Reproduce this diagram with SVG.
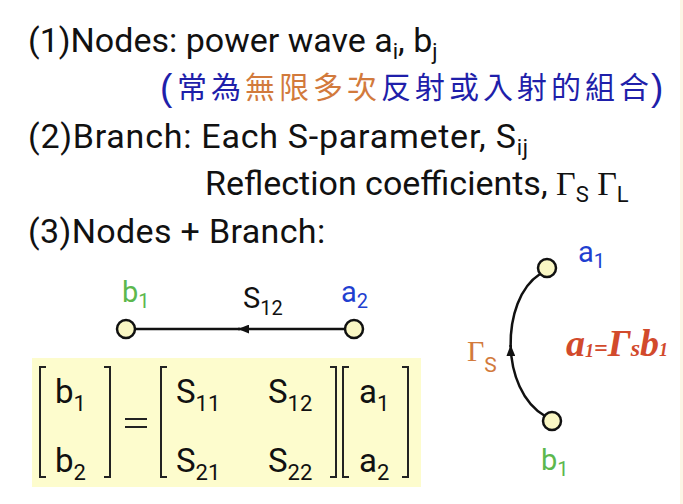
<svg xmlns="http://www.w3.org/2000/svg" width="683" height="504" viewBox="0 0 683 504">
  <style>
    .t { font-family: Roboto, "Liberation Sans", sans-serif; fill: #111; }
    .h { font-size: 34px; }
    .sub { font-size: 22px; }
    .serif { font-family: "Liberation Serif", "DejaVu Serif", serif; }
    .cjk { font-family: "Noto Sans CJK TC", "Noto Sans CJK SC", sans-serif; font-size: 30px; }
    .par { font-family: "Liberation Sans", sans-serif; font-size: 37px; }
    .blue { fill: #1f1faa; }
    .orange { fill: #d27a3c; }
    .lblue { fill: #1f3fd0; }
    .green { fill: #5cb84e; }
    .node { fill: #faf7c4; stroke: #111; stroke-width: 2.5; }
    .edge { fill: none; stroke: #111; stroke-width: 2.5; }
    .br { fill: none; stroke: #222; stroke-width: 2; }
    .m { font-size: 33px; }
    .ms { font-size: 22px; }
  </style>
  <defs>
    <marker id="arr" viewBox="0 0 10 8" refX="10" refY="4" markerWidth="11" markerHeight="9" markerUnits="userSpaceOnUse" orient="auto">
      <path d="M0,0 L10,4 L0,8 Z" fill="#111"/>
    </marker>
  </defs>
  <rect width="683" height="504" fill="#ffffff"/>
  <rect x="680" y="0" width="3" height="504" fill="#fcf6e6"/>

  <!-- Heading text -->
  <g id="text-lines">
    <text class="t h" x="28" y="52">(1)Nodes: power wave a<tspan class="sub" dy="7">i</tspan><tspan dy="-7">, b</tspan><tspan class="sub" dy="7">j</tspan></text>
    <text class="par blue" x="160" y="100">(</text>
    <text class="cjk blue" x="177 211" y="98">常為</text>
    <text class="cjk orange" x="245 279 313 347" y="98">無限多次</text>
    <text class="cjk blue" x="381 415 449 483 517 551 585 619" y="98">反射或入射的組合</text>
    <text class="par blue" x="651" y="100">)</text>
    <text class="t h" x="28" y="148" letter-spacing="0.75">(2)Branch: Each S-parameter, S<tspan class="sub" dy="7">ij</tspan></text>
    <text class="t h" x="205" y="195">Reflection coefficients, <tspan class="serif">Γ</tspan><tspan class="sub" dy="7">S</tspan><tspan dy="-7"> </tspan><tspan class="serif">Γ</tspan><tspan class="sub" dy="7">L</tspan></text>
    <text class="t h" x="28" y="243" letter-spacing="0.35">(3)Nodes + Branch:</text>
  </g>

  <!-- Connectors -->
  <g id="connectors">
    <path class="edge" d="M345,329 L238,329" marker-end="url(#arr)"/>
    <path class="edge" d="M240,329 L134,329"/>
    <path class="edge" d="M545,416 C522.5,403 511.25,374 510.6,345" marker-end="url(#arr)"/>
    <path class="edge" d="M510.6,347 C510,316 520,287 540,274"/>
  </g>

  <!-- Left signal flow: b1 <- a2 -->
  <g id="node-b1-left">
    <circle class="node" cx="126" cy="329" r="9"/>
    <text class="t green" font-size="29" x="122" y="302">b<tspan font-size="20" dy="6">1</tspan></text>
  </g>
  <g id="node-a2">
    <circle class="node" cx="354" cy="329" r="9"/>
    <text class="t lblue" font-size="29" x="341" y="302">a<tspan font-size="20" dy="6">2</tspan></text>
  </g>
  <text class="t" font-size="29" x="243" y="308">S<tspan font-size="20" dy="7">12</tspan></text>

  <!-- Right signal flow: b1 -> a1 -->
  <g id="node-a1">
    <circle class="node" cx="547" cy="268" r="9"/>
    <text class="t lblue" font-size="29" x="578" y="262">a<tspan font-size="20" dy="6">1</tspan></text>
  </g>
  <g id="node-b1-right">
    <circle class="node" cx="552" cy="421" r="9"/>
    <text class="t green" font-size="29" x="541" y="470">b<tspan font-size="20" dy="6">1</tspan></text>
  </g>
  <text class="orange" x="467" y="361"><tspan class="serif" font-size="30">Γ</tspan><tspan font-family="Roboto, sans-serif" font-size="21" dy="11">S</tspan></text>
  <text x="566" y="356" fill="#d24a2c" font-family="'Liberation Serif', serif" font-style="italic" font-weight="bold" font-size="38">a<tspan font-size="18" dy="1">1</tspan><tspan dy="-1" font-size="24">=</tspan>Γ<tspan font-size="24">s</tspan>b<tspan font-size="18">1</tspan></text>

  <!-- Matrix equation -->
  <g id="matrix">
    <rect x="32" y="358" width="389" height="129" fill="#fdfccd"/>
    <path class="br" d="M46,367 H40 V477 H46"/>
    <path class="br" d="M104,367 H110 V477 H104"/>
    <path class="br" d="M125,419 H147 M125,427 H147" stroke-width="2.5"/>
    <path class="br" d="M167,367 H161 V477 H167"/>
    <path class="br" d="M330,367 H336 V477 H330"/>
    <path class="br" d="M349,367 H343 V477 H349"/>
    <path class="br" d="M402,367 H408 V477 H402"/>
    <text class="t m" x="55" y="403">b<tspan class="ms" dy="8">1</tspan></text>
    <text class="t m" x="55" y="472">b<tspan class="ms" dy="8">2</tspan></text>
    <text class="t m" x="176" y="403">S<tspan class="ms" dy="8">11</tspan></text>
    <text class="t m" x="268" y="403">S<tspan class="ms" dy="8">12</tspan></text>
    <text class="t m" x="176" y="472">S<tspan class="ms" dy="8">21</tspan></text>
    <text class="t m" x="268" y="472">S<tspan class="ms" dy="8">22</tspan></text>
    <text class="t m" x="359" y="403">a<tspan class="ms" dy="8">1</tspan></text>
    <text class="t m" x="359" y="472">a<tspan class="ms" dy="8">2</tspan></text>
  </g>
</svg>
